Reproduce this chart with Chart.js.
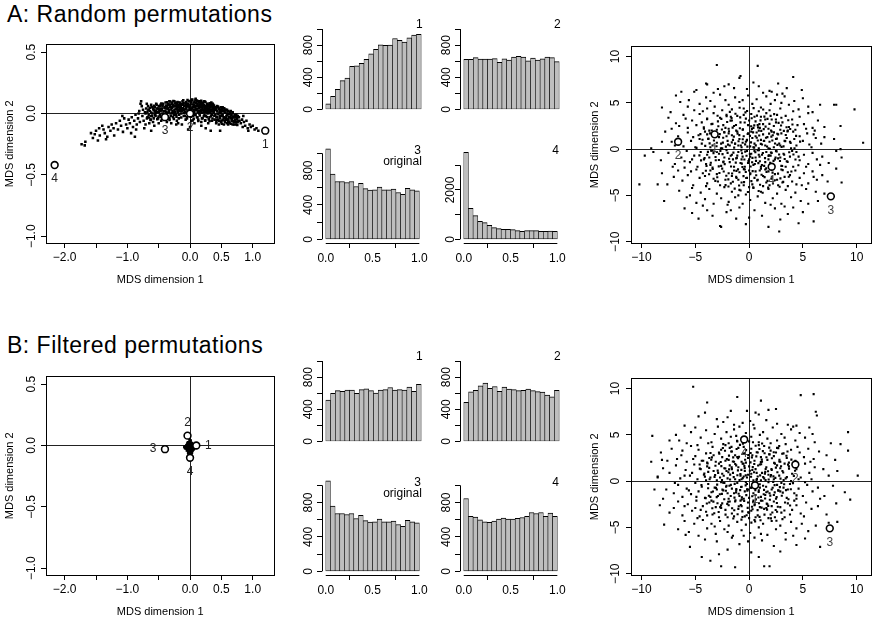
<!DOCTYPE html>
<html>
<head>
<meta charset="utf-8">
<script src="https://cdn.jsdelivr.net/npm/chart.js@4.4.1/dist/chart.umd.min.js"></script>
<style>
body { margin: 0; background: #fff; width: 876px; height: 623px; position: relative; overflow: hidden; font-family: 'Liberation Sans', Arial, Helvetica, sans-serif; }
canvas { position: absolute; }
.ttl { position: absolute; left: 7px; font-size: 23px; line-height: 23px; letter-spacing: 0.5px; white-space: nowrap; color: #000; }
</style>
</head>
<body>
<div class="ttl" style="top:3px">A: Random permutations</div>
<div class="ttl" style="top:334px">B: Filtered permutations</div>
<script>
// ---------- data ----------
const binMids = [0.025, 0.075, 0.125, 0.175, 0.225, 0.275, 0.325, 0.375, 0.425, 0.475,
                 0.525, 0.575, 0.625, 0.675, 0.725, 0.775, 0.825, 0.875, 0.925, 0.975];

const histA1 = [70, 164, 250, 359, 390, 535, 542, 574, 624, 691, 749, 804, 796, 800, 882, 859, 839, 890, 925, 933];
const histA2 = [622, 622, 645, 628, 625, 625, 632, 585, 630, 615, 652, 660, 650, 605, 638, 615, 630, 650, 645, 595];
const histOriginal = [1052, 757, 672, 672, 660, 672, 614, 652, 590, 571, 575, 606, 575, 575, 583, 544, 524, 594, 575, 563];
const histA4 = [3527, 1257, 960, 730, 676, 568, 473, 432, 405, 405, 392, 351, 324, 351, 351, 351, 324, 324, 338, 324];
const histB1 = [515, 597, 632, 624, 640, 640, 597, 644, 656, 632, 601, 640, 644, 671, 640, 644, 640, 675, 624, 710];
const histB2 = [488, 617, 636, 691, 726, 660, 683, 624, 675, 652, 644, 632, 636, 652, 632, 620, 613, 578, 554, 636];
const histB4 = [846, 638, 630, 599, 576, 568, 584, 607, 618, 607, 607, 615, 626, 638, 684, 672, 684, 638, 676, 638];

const smallXTicks = [-2, -1.5, -1, -0.5, 0, 0.5, 1];
const smallXText = ['\u22122.0', '', '\u22121.0', '', '0.0', '0.5', '1.0'];
const smallYTicks = [-1, -0.5, 0, 0.5];
const smallYText = ['\u22121.0', '\u22120.5', '0.0', '0.5'];
const largeTicks = [-10, -5, 0, 5, 10];
const largeText = ['\u221210', '\u22125', '0', '5', '10'];
const histYTicks = [0, 200, 400, 600, 800, 1000];
const histYText = ['0', '', '400', '', '800', ''];
const histY4Ticks = [0, 1000, 2000, 3000];
const histY4Text = ['0', '', '2000', ''];
const histXTicks = [0, 0.5, 1];
const histXText = ['0.0', '0.5', '1.0'];

const refNames = ['1', '2', '3', '4'];
const refSmallA = [[1.20, -0.14], [0.00, 0.00], [-0.40, -0.03], [-2.16, -0.42]];
const refSmallB = [[0.10, 0.00], [-0.04, 0.08], [-0.40, -0.03], [0.00, -0.10]];
const refLargeA = [[-3.2, 1.6], [-6.6, 0.8], [7.6, -5.1], [2.1, -1.9]];
const refLargeB = [[0.55, -0.45], [4.3, 1.8], [7.5, -5.1], [-0.46, 4.5]];

// left panel A: the crescent of random permutations
const mdsSmallA = [
[-1.73,-0.25],[-1.68,-0.26],[-1.67,-0.23],[-1.55,-0.20],[-1.52,-0.17],[-1.50,-0.14],[-1.47,-0.22],[-1.44,-0.18],[-1.38,-0.13],[-1.36,-0.16],
[-1.32,-0.19],[-1.30,-0.11],[-1.27,-0.14],[-1.25,-0.09],[-1.22,-0.12],[-1.40,-0.10],[-1.58,-0.16],[-1.34,-0.21],[-1.21,-0.18],[-1.45,-0.12],
[-1.18,-0.08],[-1.15,-0.13],[-1.12,-0.06],[-1.10,-0.10],[-1.07,-0.15],[-1.05,-0.04],[-1.02,-0.09],[-1.00,-0.12],[-0.98,-0.05],[-0.96,-0.08],
[-0.93,-0.03],[-0.91,-0.11],[-0.89,-0.06],[-0.87,-0.01],[-0.85,-0.09],[-0.83,-0.04],[-0.81,0.02],[-0.80,-0.07],[-0.78,0.10],[-0.79,0.08],
[-0.77,0.06],[-0.94,-0.16],[-1.08,-0.02],[-0.86,-0.13],[-0.82,0.00],
[-0.76,-0.02],[-0.75,0.03],[-0.74,-0.06],[-0.72,0.01],[-0.71,-0.09],[-0.70,0.04],[-0.68,-0.03],[-0.67,0.06],[-0.66,-0.01],[-0.64,0.02],
[-0.63,-0.05],[-0.62,0.07],[-0.60,0.00],[-0.59,-0.07],[-0.58,0.03],[-0.56,0.05],[-0.55,-0.02],[-0.54,0.08],[-0.52,0.01],[-0.51,-0.04],
[-0.50,0.06],[-0.49,0.03],[-0.48,-0.01],[-0.47,0.07],[-0.46,-0.06],[-0.45,0.04],[-0.44,0.00],[-0.43,0.08],[-0.42,0.02],[-0.41,-0.03],
[-0.73,-0.12],[-0.65,-0.08],[-0.57,-0.10],[-0.69,0.08],[-0.61,0.05],[-0.53,0.04],[-0.47,0.02],[-0.40,0.05],[-0.66,0.03],[-0.58,-0.04],
[-0.50,-0.08],[-0.44,0.06],[-0.62,-0.02],[-0.55,0.01],[-0.71,0.00],
[-0.39,0.09],[-0.38,0.01],[-0.37,0.06],[-0.36,-0.02],[-0.35,0.08],[-0.34,0.03],[-0.33,-0.04],[-0.32,0.07],[-0.31,0.00],[-0.30,0.05],
[-0.29,0.09],[-0.28,0.02],[-0.27,-0.03],[-0.26,0.06],[-0.25,0.10],[-0.24,0.01],[-0.23,0.04],[-0.22,-0.01],[-0.21,0.08],[-0.20,0.03],
[-0.19,0.06],[-0.18,-0.04],[-0.17,0.09],[-0.16,0.02],[-0.15,0.05],[-0.14,0.00],[-0.13,0.07],[-0.12,0.10],[-0.11,0.03],[-0.10,-0.02],
[-0.09,0.06],[-0.08,0.01],[-0.07,0.08],[-0.06,0.04],[-0.05,-0.03],[-0.04,0.07],[-0.03,0.02],[-0.02,0.10],[-0.01,0.05],[0.00,-0.01],
[-0.37,-0.07],[-0.30,-0.08],[-0.21,-0.06],[-0.13,-0.09],[-0.07,-0.05],[-0.35,0.04],[-0.27,0.07],[-0.19,0.01],[-0.11,0.08],[-0.03,0.06],
[-0.33,0.10],[-0.23,0.09],[-0.16,0.07],[-0.09,0.03],[-0.04,0.11],[-0.26,-0.01],[-0.14,0.04],[-0.06,0.09],[-0.38,0.04],[-0.18,0.03],
[0.01,0.08],[0.02,0.03],[0.03,0.11],[0.04,0.05],[0.05,-0.02],[0.06,0.09],[0.07,0.01],[0.08,0.06],[0.09,0.12],[0.10,0.03],
[0.11,-0.03],[0.12,0.08],[0.13,0.04],[0.14,0.10],[0.15,0.00],[0.16,0.06],[0.17,0.02],[0.18,0.09],[0.19,-0.04],[0.20,0.05],
[0.21,0.07],[0.22,0.01],[0.23,0.10],[0.24,0.03],[0.25,-0.02],[0.26,0.06],[0.27,0.08],[0.28,0.00],[0.29,0.04],[0.30,0.07],
[0.31,-0.03],[0.32,0.02],[0.33,0.06],[0.34,0.09],[0.35,-0.01],[0.36,0.04],[0.37,0.07],[0.38,0.01],[0.39,-0.05],[0.40,0.05],
[0.02,-0.06],[0.07,-0.08],[0.13,-0.05],[0.18,-0.07],[0.24,-0.06],[0.29,-0.08],[0.35,-0.06],[0.04,0.00],[0.09,0.04],[0.14,0.02],
[0.19,0.07],[0.23,0.05],[0.28,0.03],[0.33,0.00],[0.37,0.03],[0.06,0.07],[0.11,0.10],[0.16,0.09],[0.21,0.03],[0.26,0.02],
[0.31,0.05],[0.36,0.08],[0.03,0.04],[0.12,0.01],[0.17,0.05],[0.27,0.04],[0.32,0.08],[0.08,-0.01],[0.22,-0.02],[0.15,0.07],
[0.41,0.03],[0.42,-0.03],[0.43,0.06],[0.44,0.00],[0.45,-0.05],[0.46,0.04],[0.47,0.01],[0.48,-0.02],[0.49,0.05],[0.50,-0.06],
[0.51,0.02],[0.52,-0.01],[0.53,0.04],[0.54,-0.04],[0.55,0.01],[0.56,-0.07],[0.57,0.03],[0.58,-0.02],[0.59,0.00],[0.60,-0.05],
[0.61,0.02],[0.62,-0.03],[0.63,-0.08],[0.64,0.00],[0.65,-0.04],[0.66,-0.01],[0.67,-0.06],[0.68,0.01],[0.69,-0.03],[0.70,-0.07],
[0.71,-0.02],[0.72,-0.05],[0.73,-0.09],[0.74,-0.01],[0.75,-0.04],[0.76,-0.07],[0.78,-0.03],[0.79,-0.06],[0.44,0.05],[0.48,0.03],
[0.52,0.05],[0.57,-0.05],[0.61,-0.07],[0.65,0.02],[0.42,-0.07],[0.54,-0.09],[0.46,-0.09],[0.68,-0.09],[0.50,0.00],[0.59,0.03],
[0.81,-0.08],[0.83,-0.05],[0.84,-0.11],[0.86,-0.07],[0.88,-0.10],[0.90,-0.06],[0.92,-0.12],[0.95,-0.09],[0.97,-0.11],[1.00,-0.10],
[1.03,-0.13],[1.06,-0.12],[0.85,-0.02],[1.09,-0.14],[0.93,-0.14],
[-0.22,-0.09],[-0.19,-0.08],[0.18,-0.10],[0.33,-0.14],[0.48,-0.14],[-0.03,-0.13],[0.00,-0.11],[-0.62,-0.14],[-0.88,-0.19],[0.25,-0.12],
[-0.680,0.013],[-0.655,-0.032],[-0.642,0.047],[-0.618,0.008],[-0.603,-0.021],[-0.587,0.036],[-0.571,0.062],[-0.556,-0.013],[-0.538,0.024],[-0.523,-0.047],
[-0.509,0.041],[-0.494,0.012],[-0.481,0.058],[-0.467,-0.028],[-0.452,0.027],[-0.437,0.069],[-0.423,-0.009],[-0.408,0.046],[-0.663,0.028],[-0.628,-0.052],
[-0.597,0.053],[-0.566,0.017],[-0.533,0.071],[-0.502,-0.025],[-0.473,0.034],[-0.444,-0.043],[-0.415,0.017],[-0.688,-0.041],[-0.546,0.005],[-0.458,0.081],
[-0.392,0.023],[-0.384,0.064],[-0.377,-0.015],[-0.369,0.091],[-0.356,0.041],[-0.348,-0.036],[-0.341,0.072],[-0.333,0.015],[-0.324,0.052],[-0.316,0.098],
[-0.308,-0.021],[-0.299,0.033],[-0.291,0.077],[-0.283,0.004],[-0.274,0.058],[-0.266,0.101],[-0.258,-0.044],[-0.249,0.029],[-0.241,0.081],[-0.233,0.012],
[-0.224,0.064],[-0.216,-0.027],[-0.208,0.047],[-0.199,0.094],[-0.191,0.021],[-0.183,0.069],[-0.174,-0.011],[-0.166,0.038],[-0.158,0.088],[-0.149,0.057],
[-0.141,-0.033],[-0.133,0.018],[-0.124,0.076],[-0.116,0.043],[-0.108,0.107],[-0.099,0.007],[-0.091,0.061],[-0.083,-0.019],[-0.074,0.035],[-0.066,0.093],
[-0.058,0.052],[-0.049,-0.041],[-0.041,0.024],[-0.033,0.079],[-0.024,0.061],[-0.016,-0.008],[-0.008,0.039],[-0.004,0.102],[-0.362,0.007],[-0.287,0.047],
[-0.212,0.083],[-0.137,0.031],[-0.062,0.071],[-0.327,-0.052],[-0.253,0.011],[-0.178,0.052],[-0.103,0.083],[-0.028,0.017],[-0.396,0.053],[-0.221,0.037],
[0.006,0.066],[0.013,-0.027],[0.021,0.094],[0.028,0.041],[0.036,0.113],[0.043,0.012],[0.051,0.073],[0.058,-0.044],[0.066,0.029],[0.073,0.097],
[0.081,0.052],[0.088,-0.013],[0.096,0.083],[0.103,0.034],[0.111,0.106],[0.118,-0.031],[0.126,0.061],[0.133,0.019],[0.141,0.089],[0.148,0.046],
[0.156,-0.017],[0.163,0.071],[0.171,0.031],[0.178,0.103],[0.186,0.007],[0.193,0.057],[0.201,-0.038],[0.208,0.086],[0.216,0.024],[0.223,0.067],
[0.231,-0.012],[0.238,0.044],[0.246,0.093],[0.253,0.013],[0.261,0.058],[0.268,-0.029],[0.276,0.076],[0.283,0.027],[0.291,0.061],[0.298,-0.047],
[0.306,0.038],[0.313,0.084],[0.321,0.011],[0.328,0.049],[0.336,-0.023],[0.343,0.068],[0.351,0.021],[0.358,-0.041],[0.366,0.052],[0.373,0.009],
[0.381,0.064],[0.388,-0.018],[0.396,0.031],[0.017,0.017],[0.062,0.051],[0.108,0.064],[0.153,0.004],[0.198,0.036],[0.243,-0.056],[0.288,0.011],
[0.333,0.031],[0.378,0.042],[0.042,-0.057],[0.087,0.111],[0.132,-0.062],[0.177,0.081],[0.222,0.097],[0.267,0.041],[0.312,-0.062],[0.357,0.076],
[0.404,-0.011],[0.412,0.044],[0.421,-0.051],[0.429,0.019],[0.437,-0.028],[0.446,0.057],[0.454,-0.006],[0.462,-0.062],[0.471,0.029],[0.479,-0.039],
[0.487,0.013],[0.496,-0.071],[0.504,0.036],[0.512,-0.018],[0.521,-0.052],[0.529,0.021],[0.537,-0.031],[0.546,0.043],[0.554,-0.061],[0.562,0.006],
[0.571,-0.036],[0.579,0.024],[0.587,-0.079],[0.596,-0.013],[0.604,0.017],[0.612,-0.044],[0.621,-0.007],[0.629,-0.066],[0.637,0.011],[0.646,-0.027],
[0.654,-0.083],[0.662,-0.016],[0.671,-0.048],[0.679,0.004],[0.687,-0.064],[0.696,-0.031],[0.704,-0.089],[0.712,-0.012],[0.721,-0.056],[0.729,-0.027],
[0.737,-0.071],[0.746,-0.046],[0.754,-0.093],[0.762,-0.021],[0.771,-0.061],[0.417,-0.079],[0.458,0.039],[0.508,-0.084],[0.558,0.031],[0.608,-0.089]
];

// left panel B: the tight cluster of filtered permutations
const mdsSmallB = [
[0.00,0.04],[-0.01,0.03],[0.01,0.02],[-0.02,0.02],[0.02,0.01],[-0.03,0.01],[0.00,0.01],[0.03,0.00],[-0.04,0.00],[-0.01,0.00],
[0.01,-0.01],[0.04,-0.01],[-0.05,-0.01],[-0.02,-0.01],[0.06,-0.01],[-0.07,-0.01],[0.02,-0.02],[-0.03,-0.02],[0.05,-0.02],[-0.06,-0.02],
[0.00,-0.02],[0.08,-0.02],[-0.08,-0.02],[0.03,-0.03],[-0.04,-0.03],[0.06,-0.03],[-0.01,-0.03],[0.01,-0.04],[-0.03,-0.04],[0.04,-0.04],
[-0.05,-0.04],[0.02,-0.05],[-0.02,-0.05],[0.00,-0.05],[0.03,-0.06],[-0.03,-0.06],[0.01,-0.07],[-0.01,-0.07],[0.02,-0.08],[0.00,-0.08],
[-0.01,0.05],[0.01,0.04],[0.05,0.00],[-0.06,0.00],[0.07,-0.01],[-0.09,-0.01],[0.09,-0.01],[0.03,0.02],[-0.04,0.02],[0.00,-0.09],
[0.005,0.032],[-0.012,0.021],[0.015,0.008],[-0.025,0.006],[0.027,-0.008],[-0.036,-0.012],[0.044,-0.016],[-0.047,-0.019],[0.058,-0.021],[-0.058,-0.011],
[0.072,-0.018],[-0.071,-0.024],[0.012,-0.014],[-0.008,-0.016],[0.022,-0.033],[-0.019,-0.036],[0.035,-0.045],[-0.036,-0.041],[0.008,-0.052],[-0.011,-0.058],
[0.018,-0.064],[-0.006,-0.074],[0.009,-0.082],[0.032,0.014],[-0.031,0.027],[0.052,0.007],[-0.053,0.004],[0.066,-0.005],[-0.077,-0.006],[0.084,-0.014],
[-0.086,-0.015],[0.048,-0.035],[-0.049,-0.028],[0.027,-0.055],[-0.024,-0.068],[0.004,-0.027],[-0.002,0.014],[0.011,-0.093],[0.039,-0.004],[-0.041,0.011]
];

// right panel A
const mdsLargeA = [
[-3.0,9.1],[0.8,9.0],[-0.8,7.9],[-0.9,7.7],[4.1,7.8],[-2.3,6.8],[-4.0,7.1],[-3.9,7.0],[-4.9,6.4],[-5.1,6.2],
[-6.3,6.2],[1.9,6.3],[0.4,7.2],[2.7,7.1],[3.5,6.6],[-1.4,6.6],[-2.9,6.5],[0.9,6.8],[2.1,6.2],[-0.2,6.5],
[4.9,6.4],[-3.3,6.1],[1.3,6.1],[-1.9,7.0],[3.1,6.0],
[-6.8,5.8],[-6.4,5.1],[-5.6,5.3],[-4.6,4.9],[-4.0,5.6],[-3.6,5.2],[-3.2,4.6],[-2.7,5.9],[-2.2,5.3],[-1.9,4.8],
[-1.3,5.6],[-0.9,5.1],[-0.5,4.4],[-0.1,5.8],[0.3,4.9],[0.7,5.4],[1.1,4.5],[1.6,5.7],[2.0,4.9],[2.4,5.3],
[2.9,4.4],[3.3,5.7],[3.7,4.8],[4.2,5.2],[4.6,4.3],[5.0,5.5],[5.5,4.6],[6.6,4.8],[7.9,4.8],[8.1,4.8],
[-8.1,4.5],[-5.1,4.2],[-4.3,4.1],[-2.5,4.2],[0.9,4.1],[1.9,4.2],[3.0,5.0],[-1.6,4.3],[-3.9,4.4],[5.9,4.0],
[-0.6,5.3],[4.1,4.1],[2.6,5.9],[-7.3,4.0],[-5.7,4.6],[9.8,4.3],
[-6.8,2.8],[-7.5,3.4],[-6.1,3.7],[-5.7,2.3],[-5.3,3.1],[-4.9,2.6],[-4.6,3.8],[-4.2,2.2],[-3.9,3.3],[-3.5,2.7],
[-3.3,3.9],[-3.0,2.1],[-2.7,3.4],[-2.4,2.6],[-2.1,3.7],[-1.9,2.2],[-1.6,3.1],[-1.4,2.5],[-1.1,3.6],[-0.8,2.9],
[-0.6,2.1],[-0.3,3.3],[-0.1,2.6],[0.2,3.8],[0.4,2.3],[0.6,3.0],[0.9,2.0],[1.1,3.5],[1.3,2.7],[1.6,3.9],
[1.8,2.2],[2.1,3.2],[2.3,2.5],[2.6,3.7],[2.9,2.1],[3.1,2.9],[3.4,3.6],[3.7,2.4],[4.0,3.2],[4.3,2.1],
[4.7,3.5],[5.1,2.7],[5.5,3.9],[5.9,2.3],[6.4,3.1],[7.0,2.4],[8.5,2.5],[-7.2,2.2],[-5.9,3.3],[-4.4,2.9],
[-2.9,3.0],[-1.2,2.0],[0.0,3.1],[0.8,2.6],[1.5,3.2],[2.5,2.9],[3.6,2.0],[4.5,2.6],[6.1,2.0],[-3.7,2.0],
[-2.2,2.3],[-0.5,3.7],[1.0,2.3],[2.0,3.6],[3.0,3.4],[5.3,2.2],[-6.5,2.5],[-1.7,3.5],[0.5,3.5],
[-8.1,0.8],[-7.8,1.9],[-7.2,0.8],[-6.6,1.4],[-6.1,0.3],[-5.7,1.8],[-5.4,0.9],[-5.0,0.2],[-4.7,1.5],[-4.4,0.6],
[-4.1,1.9],[-3.8,1.1],[-3.6,0.2],[-3.3,1.6],[-3.0,0.7],[-2.8,1.3],[-2.5,0.1],[-2.3,1.8],[-2.0,0.9],[-1.8,0.4],
[-1.6,1.5],[-1.3,0.6],[-1.1,1.9],[-0.9,1.1],[-0.7,0.2],[-0.5,1.4],[-0.3,0.8],[-0.1,1.7],[0.1,0.3],[0.3,1.2],
[0.5,0.6],[0.7,1.8],[0.9,0.1],[1.1,1.0],[1.3,1.6],[1.5,0.4],[1.7,1.3],[1.9,0.8],[2.1,1.9],[2.3,0.2],
[2.5,1.1],[2.8,0.6],[3.0,1.7],[3.2,0.3],[3.5,1.2],[3.8,0.8],[4.1,1.9],[4.4,0.4],[4.7,1.4],[5.0,0.9],
[5.4,1.7],[5.8,0.2],[6.2,1.2],[6.7,0.6],[7.0,1.3],[7.9,1.1],[8.5,0.0],[10.6,0.7],[-9.1,0.1],[-6.9,0.4],
[-5.2,1.3],[-3.4,0.4],[-2.1,1.4],[-1.0,0.4],[-0.2,1.0],[0.6,1.4],[1.4,0.9],[2.2,1.5],[3.3,0.9],[4.2,1.1],
[5.6,0.5],[-4.6,1.1],[-1.5,1.0],[0.2,1.9],[1.8,0.1],[2.7,1.6],[3.9,0.1],[-2.6,0.6],[-0.6,0.7],[0.4,0.2],
[1.2,0.5],[6.0,1.6],[-3.9,1.6],[-1.9,1.7],[2.9,0.4],
[-9.7,-0.7],[-8.2,-1.2],[-7.5,-0.4],[-6.9,-1.6],[-6.3,-0.9],[-5.8,-0.2],[-5.5,-1.4],[-5.1,-0.7],[-4.8,-1.9],[-4.5,-0.3],
[-4.2,-1.1],[-3.9,-0.6],[-3.6,-1.7],[-3.4,-0.2],[-3.1,-1.2],[-2.8,-0.5],[-2.6,-1.8],[-2.3,-0.9],[-2.1,-0.1],[-1.8,-1.4],
[-1.6,-0.6],[-1.4,-1.9],[-1.2,-1.0],[-1.0,-0.3],[-0.8,-1.5],[-0.6,-0.8],[-0.4,-1.9],[-0.2,-0.2],[0.0,-1.1],[0.2,-0.5],
[0.4,-1.7],[0.6,-0.9],[0.8,-0.1],[1.0,-1.3],[1.2,-0.6],[1.4,-1.8],[1.6,-0.3],[1.8,-1.1],[2.0,-0.7],[2.2,-1.6],
[2.5,-0.2],[2.7,-1.0],[3.0,-1.8],[3.2,-0.5],[3.5,-1.3],[3.8,-0.8],[4.1,-1.9],[4.4,-0.3],[4.7,-1.2],[5.1,-0.6],
[5.5,-1.6],[5.9,-0.4],[6.3,-1.1],[6.8,-0.8],[7.4,-1.5],[8.1,-0.2],[8.6,-0.9],[-10.2,-3.8],[-8.9,-0.3],[-7.1,-1.9],
[-5.3,-1.1],[-3.7,-0.9],[-2.4,-1.4],[-1.1,-0.7],[-0.1,-1.5],[0.9,-0.6],[1.9,-1.9],[2.9,-0.9],[4.0,-0.2],[5.3,-1.9],
[-4.0,-1.6],[-2.0,-0.4],[-0.7,-1.1],[0.5,-0.2],[1.5,-1.4],[2.4,-1.1],[3.4,-1.9],[6.6,-1.7],[-6.0,-1.3],[-3.0,-0.3],
[0.1,-0.8],[1.1,-1.9],[2.1,-0.4],[4.6,-0.8],[-1.5,-1.1],
[-8.1,-2.6],[-8.5,-3.8],[-7.6,-3.8],[-6.6,-2.3],[-6.2,-3.4],[-5.7,-2.8],[-5.2,-3.9],[-4.9,-2.2],[-4.6,-3.1],[-4.3,-2.6],
[-3.9,-3.7],[-3.6,-2.3],[-3.3,-3.2],[-3.0,-2.7],[-2.7,-3.9],[-2.5,-2.1],[-2.2,-3.3],[-1.9,-2.6],[-1.7,-3.7],[-1.4,-2.3],
[-1.2,-3.0],[-0.9,-2.5],[-0.7,-3.6],[-0.4,-2.2],[-0.2,-3.1],[0.1,-2.7],[0.3,-3.8],[0.6,-2.4],[0.8,-3.3],[1.1,-2.1],
[1.3,-2.9],[1.6,-3.6],[1.8,-2.4],[2.1,-3.2],[2.4,-2.7],[2.7,-3.9],[3.0,-2.2],[3.3,-3.0],[3.6,-2.5],[4.0,-3.5],
[4.3,-2.3],[4.7,-3.1],[5.1,-2.6],[5.5,-3.7],[5.9,-2.4],[6.3,-3.3],[6.8,-2.8],[7.3,-3.5],[8.1,-2.1],[8.6,-3.6],
[-7.0,-3.0],[-5.4,-2.4],[-4.1,-2.9],[-2.9,-3.5],[-1.6,-2.9],[-0.5,-3.9],[0.5,-3.1],[1.5,-2.2],[2.6,-3.3],[3.8,-2.8],
[4.9,-3.9],[6.0,-3.0],[-3.4,-2.0],[-1.0,-3.3],[1.9,-3.9],[3.1,-3.6],[-6.0,-2.0],[0.0,-2.3],[2.3,-2.0],[4.4,-3.8],
[-7.9,-5.6],[-6.0,-6.4],[-6.5,-4.5],[-5.8,-5.2],[-5.3,-4.2],[-4.9,-5.8],[-4.5,-4.7],[-4.1,-5.4],[-3.7,-4.3],[-3.3,-5.9],
[-3.0,-4.8],[-2.6,-5.3],[-2.3,-4.1],[-1.9,-5.7],[-1.6,-4.6],[-1.3,-5.2],[-0.9,-4.4],[-0.6,-5.9],[-0.3,-4.9],[0.1,-5.5],
[0.4,-4.2],[0.8,-5.1],[1.1,-4.6],[1.5,-5.8],[1.8,-4.3],[2.2,-5.3],[2.6,-4.8],[3.0,-5.9],[3.4,-4.4],[3.9,-5.2],
[4.3,-4.7],[4.8,-5.6],[5.3,-4.3],[5.5,-5.9],[6.4,-5.6],[6.2,-4.6],[7.0,-4.8],[-4.0,-4.0],[-2.0,-6.0],[0.0,-4.1],
[2.0,-6.0],[-5.5,-5.0],[1.3,-4.0],[-1.0,-5.0],[3.6,-4.0],
[-5.3,-6.9],[-2.1,-6.8],[-2.6,-8.4],[-2.7,-8.3],[-0.3,-8.1],[1.8,-8.4],[2.8,-8.9],[4.6,-8.0],[6.0,-7.8],[-4.3,-6.1],
[-3.4,-7.2],[-1.2,-7.5],[0.5,-6.6],[1.2,-7.2],[2.4,-6.4],[3.6,-7.0],[4.1,-6.3],[5.0,-6.8],[-0.9,-6.3],[0.0,-7.4],
[-3.9,-6.6],[2.9,-7.6],[-1.7,-6.6],[3.3,-6.2],[-4.7,-7.5],
[-0.37,0.52],[1.84,-0.66],[-2.41,1.23],[0.96,2.71],[-1.18,-2.34],[2.63,0.47],[-3.12,-0.85],[0.21,-3.46],[3.57,1.92],[-1.73,3.08],
[0.64,-1.27],[-2.86,2.47],[1.37,0.88],[-0.52,-2.91],[2.18,-2.53],[-3.64,1.71],[0.08,1.43],[4.12,-0.57],[-1.46,-0.38],[1.02,-3.84],
[-2.27,-1.62],[3.31,-1.06],[-0.86,2.26],[2.74,2.84],[-4.08,0.36],[0.47,0.17],[-1.93,-3.27],[1.59,-2.08],[-0.19,4.12],[3.86,0.68],
[-3.38,-2.14],[0.73,3.63],[-2.62,0.08],[2.07,1.36],[-0.68,-1.56],[1.28,-0.41],[-4.47,-1.21],[0.33,-2.37],[2.91,-3.16],[-1.07,1.68],
[-2.04,2.93],[3.48,2.37],[-0.24,-0.71],[1.71,3.27],[-3.83,-0.29],[0.89,-4.52],[-1.61,0.74],[2.46,-0.92],[-0.93,-3.92],[4.37,1.44],
[-2.93,3.61],[1.13,1.97],[-0.41,2.88],[3.12,-2.27],[-1.86,-1.04],[0.14,-1.88],[2.33,3.79],[-3.27,0.93],[0.58,-0.33],[-2.19,-3.88],
[1.67,0.29],[-0.77,0.39],[3.73,-0.34],[-4.21,2.36],[0.26,2.19],[-1.34,-4.27],[2.58,1.14],[-0.11,-4.63],[1.96,-1.47],[-3.56,-1.47],
[0.81,0.93],[-2.47,-0.54],[4.58,-1.74],[-1.22,2.61],[1.44,-3.02],[-0.59,1.07],[3.02,0.23],[-2.73,1.62],[0.42,4.44],[-1.58,-2.63],
[2.22,-3.71],[-3.91,3.23],[0.97,-0.81],[-0.31,-2.47],[1.53,2.43],[-4.62,-0.67],[2.87,-1.28],[-1.96,0.49],[0.18,0.73],[3.64,3.12],
[-2.36,-2.41],[1.19,-1.73],[-0.83,3.44],[2.41,0.61],[-3.47,2.02],[0.66,-2.82],[-1.42,1.36],[4.03,2.67],[-0.06,-1.28],[1.77,-4.16],
[-2.81,-1.17],[0.37,1.81],[-1.79,4.03],[3.26,-0.61],[-3.03,0.31],[1.06,3.11],[-0.47,-3.56],[2.69,-2.64],[-4.33,1.02],[0.91,-0.12],
[-1.14,-0.96],[2.04,2.02],[-2.58,3.27],[1.48,-0.97],[-0.72,-0.13],[3.93,-2.42],[-3.72,-2.71],[0.24,3.34],[-1.68,-1.88],[2.56,-0.24],
[-0.98,0.86],[1.31,4.28],[-2.12,-2.87],[3.41,1.53],[-4.89,0.14],[0.53,-1.61],[-1.27,3.82],[2.12,-2.98],[-0.16,0.28],[1.86,1.68],
[-3.18,1.37],[0.76,-3.37],[-0.57,2.14],[4.22,0.09],[-2.44,0.71],[1.62,-2.46],[-1.51,-3.52],[2.97,2.56],[-3.96,-1.82],[0.07,-0.52],
[1.09,0.57],[-2.67,-0.19],[3.17,-3.53],[-0.34,3.97],[-4.14,-0.97],[1.93,0.04],[-1.03,-2.18],[2.31,1.82],[-0.62,-1.93],[0.48,2.57],
[-3.41,2.73],[2.79,-0.58],[-1.87,1.94],[0.99,-2.31],[-0.13,1.64],[3.58,-1.38],[-2.96,-3.04],[1.42,3.52],[-0.79,-4.47],[2.16,0.94],
[-3.67,0.62],[0.31,-0.94],[-1.39,0.17],[4.74,0.81],[-0.44,-1.12],[1.57,1.24],[-2.31,1.84],[3.07,-1.82],[0.86,-1.51],[-1.71,-0.71],
[0.19,2.47],[-2.82,-1.86],[2.49,3.21],[-0.91,1.52],[1.26,-4.71],[-3.31,-0.43],[3.82,2.18],[-1.24,-1.46],[0.62,0.41],[-4.53,1.63],
[1.81,-0.73],[-0.27,-3.12],[2.84,-4.06],[-2.09,3.56],[0.11,-2.62],[-1.53,2.33],[3.36,0.87],[-3.14,-3.43],[0.94,1.47],[-0.66,-0.44],
[2.27,-1.26],[-1.92,-4.03],[1.36,2.17],[-2.53,2.13],[3.69,-2.98],[-0.21,0.94],[-3.78,1.14],[1.71,-3.43],[0.39,-4.13],[-1.31,0.58],
[2.62,1.67],[-2.76,-2.57],[0.83,2.36],[-0.49,-2.16],[4.31,-1.11],[-1.63,3.37],[1.16,-2.77],[-3.53,-0.16],[0.28,-1.42],[2.03,-0.36],
[-0.88,4.47],[-2.38,-1.33],[3.23,1.97],[-1.17,-3.11],[0.71,1.23],[-4.02,-2.33],[1.89,2.73],[-0.36,-0.27],[2.39,-3.36],[-2.16,0.27]
];

// right panel B
const mdsLargeB = [
[-5.2,10.2],[-1.1,9.1],[1.1,8.7],[-3.9,8.5],[4.8,9.3],[6.0,9.4],[6.2,7.5],[6.3,7.1],[-0.2,7.6],[0.6,7.4],
[0.9,7.2],[-1.7,7.6],[-4.1,7.4],[1.8,7.7],[2.5,7.8],[0.1,6.5],[-3.0,6.7],[-2.4,6.4],[-1.4,6.1],[0.4,6.1],
[1.6,6.6],[2.6,6.2],[3.6,6.1],[-4.7,7.0],[-2.0,6.9],[4.4,6.0],[-0.6,6.3],
[-6.0,6.0],[-6.8,5.0],[-5.4,5.3],[-5.0,5.8],[-4.5,4.7],[-4.0,5.5],[-3.5,4.2],[-3.2,5.1],[-2.9,5.9],[-2.6,4.6],
[-2.1,5.3],[-1.7,4.8],[-1.4,5.6],[-1.1,4.3],[-0.5,4.5],[-0.3,5.2],[0.2,4.8],[0.5,5.7],[0.9,4.2],[1.3,5.3],
[1.7,4.6],[2.2,5.8],[2.6,4.4],[3.0,5.1],[3.4,4.0],[3.9,5.6],[4.3,4.4],[4.7,5.2],[5.2,4.7],[5.6,5.8],
[6.1,4.2],[7.6,4.1],[8.5,4.0],[9.2,5.3],[-9.0,4.9],[-7.4,4.4],[-5.8,4.1],[-3.8,4.1],[-1.9,4.1],[-0.9,5.9],
[0.0,4.3],[1.0,5.0],[2.0,4.1],[3.3,4.7],[4.1,5.9],[-1.2,4.9],[5.9,5.1],[-2.4,4.0],[-6.5,4.4],
[-9.1,2.1],[-8.1,2.3],[-8.2,3.1],[-7.2,3.5],[-6.7,2.4],[-6.2,3.3],[-5.8,2.1],[-5.4,3.8],[-5.0,2.7],[-4.7,3.4],
[-4.4,2.2],[-4.0,3.0],[-3.7,2.5],[-3.4,3.7],[-3.1,2.1],[-2.8,3.1],[-2.5,2.6],[-2.2,3.9],[-1.9,2.3],[-1.6,3.2],
[-1.3,2.8],[-1.0,3.6],[-0.7,2.1],[-0.4,3.0],[-0.1,2.5],[0.2,3.5],[0.5,2.2],[0.8,3.1],[1.1,2.6],[1.4,3.8],
[1.7,2.3],[2.0,3.3],[2.3,2.7],[2.6,3.6],[2.9,2.1],[3.2,3.0],[3.5,2.5],[3.9,3.4],[4.3,2.2],[4.7,3.1],
[5.1,2.6],[5.5,3.5],[6.0,2.4],[6.5,3.2],[7.2,2.8],[8.0,2.3],[9.2,3.3],[-7.6,2.2],[-5.2,2.4],[-3.9,2.0],
[-2.6,3.4],[-2.2,2.2],[-1.4,2.1],[-0.5,3.7],[0.3,2.8],[1.2,2.1],[2.5,3.1],[3.7,2.0],[4.5,3.7],[-3.3,2.8],
[-4.8,3.9],[-1.1,2.6],[0.9,3.9],[1.9,2.9],[-6.3,2.8],[2.8,3.8],[-0.3,2.0],[-1.8,3.6],[5.7,2.1],
[-8.5,0.5],[-8.0,1.4],[-7.4,0.9],[-6.8,1.7],[-6.4,0.3],[-5.9,1.2],[-5.5,0.6],[-5.1,1.8],[-4.8,0.2],[-4.5,1.3],
[-4.2,0.7],[-3.9,1.6],[-3.6,0.4],[-3.3,1.1],[-3.0,0.1],[-2.8,1.9],[-2.5,0.8],[-2.3,1.4],[-2.0,0.3],[-1.8,1.7],
[-1.5,0.9],[-1.3,0.2],[-1.0,1.5],[-0.8,0.6],[-0.6,1.9],[-0.4,1.1],[-0.2,0.4],[0.0,1.6],[0.2,0.8],[0.4,0.1],
[0.6,1.3],[0.8,0.5],[1.0,1.8],[1.2,0.9],[1.4,0.3],[1.6,1.5],[1.8,0.7],[2.1,1.2],[2.3,0.2],[2.6,1.7],
[2.8,0.6],[3.1,1.1],[3.4,0.3],[3.7,1.6],[4.0,0.8],[4.4,1.3],[4.8,0.4],[5.2,1.9],[5.6,0.9],[6.1,1.5],
[6.9,1.3],[7.4,0.6],[8.2,1.1],[10.1,0.6],[-8.5,0.4],[-6.0,0.6],[-4.0,0.1],[-2.7,0.4],[-1.6,1.3],[-0.7,0.2],
[0.3,1.2],[1.1,0.1],[2.0,0.5],[3.3,1.9],[4.6,0.2],[5.8,0.2],[-3.8,1.0],[-2.1,1.1],[-0.1,0.7],[1.5,1.0],
[2.4,1.9],[-5.3,0.9],[-1.2,1.7],[0.7,0.9],[3.9,0.0],[-4.6,1.8],[-0.5,0.5],[2.9,1.4],
[-8.0,-1.9],[-7.7,-0.9],[-7.0,-1.3],[-6.6,-0.4],[-6.2,-1.7],[-5.8,-0.8],[-5.4,-1.4],[-5.0,-0.2],[-4.7,-1.1],[-4.4,-0.6],
[-4.1,-1.8],[-3.8,-0.3],[-3.5,-1.2],[-3.2,-0.7],[-2.9,-1.6],[-2.6,-0.1],[-2.4,-1.0],[-2.1,-0.5],[-1.9,-1.9],[-1.6,-0.8],
[-1.4,-1.3],[-1.1,-0.2],[-0.9,-1.6],[-0.7,-0.6],[-0.4,-1.1],[-0.2,-0.3],[0.0,-1.8],[0.2,-0.7],[0.4,-1.3],[0.7,-0.2],
[0.9,-1.0],[1.1,-1.7],[1.3,-0.5],[1.6,-1.2],[1.8,-0.1],[2.1,-0.9],[2.3,-1.5],[2.6,-0.4],[2.9,-1.1],[3.2,-0.7],
[3.5,-1.8],[3.8,-0.3],[4.2,-1.3],[4.6,-0.8],[5.0,-1.6],[5.4,-0.4],[5.9,-1.1],[6.4,-0.7],[7.0,-1.6],[7.8,-0.5],
[8.9,-1.2],[9.4,-2.0],[-8.8,-0.9],[-6.9,-0.2],[-4.9,-1.7],[-3.0,-0.9],[-1.7,-0.4],[-0.5,-1.9],[0.5,-0.4],[1.5,-1.5],
[2.5,-1.9],[3.6,-0.9],[5.2,-0.1],[-3.6,-1.7],[-2.3,-0.2],[-1.2,-1.0],[-0.1,-0.9],[1.0,-0.7],[1.9,-1.3],[3.0,-0.2],
[4.4,-1.9],[-5.6,-1.0],[-0.3,-0.1],[0.6,-1.5],[2.7,-1.0],[-2.0,-1.3],[6.6,-1.9],
[-8.3,-2.6],[-7.4,-3.4],[-6.6,-2.2],[-6.2,-3.7],[-5.7,-2.5],[-5.3,-3.2],[-4.9,-2.1],[-4.6,-3.8],[-4.3,-2.7],[-4.0,-3.3],
[-3.7,-2.3],[-3.4,-3.6],[-3.1,-2.8],[-2.8,-3.9],[-2.5,-2.4],[-2.2,-3.1],[-1.9,-2.6],[-1.6,-3.5],[-1.3,-2.2],[-1.0,-3.0],
[-0.7,-2.7],[-0.4,-3.8],[-0.1,-2.3],[0.2,-3.2],[0.5,-2.6],[0.8,-3.7],[1.1,-2.1],[1.4,-3.0],[1.7,-2.5],[2.0,-3.6],
[2.3,-2.2],[2.6,-3.3],[2.9,-2.8],[3.3,-3.9],[3.6,-2.4],[4.0,-3.1],[4.4,-2.6],[4.8,-3.5],[5.3,-2.3],[5.8,-3.0],
[6.4,-2.7],[7.2,-3.6],[8.1,-2.4],[-7.0,-2.9],[-5.0,-2.9],[-3.5,-2.1],[-2.0,-3.9],[-0.8,-2.1],[0.6,-3.9],[1.6,-2.9],
[3.0,-3.4],[4.2,-2.1],[-6.0,-2.7],[-4.5,-3.1],[-2.6,-2.9],[-1.4,-3.8],[0.0,-3.4],[1.0,-2.8],[2.4,-3.9],[3.8,-3.6],
[5.1,-3.8],[-3.9,-3.7],[-1.8,-2.2],[0.4,-2.1],[2.1,-2.7],
[-7.9,-4.7],[-6.6,-5.2],[-6.0,-4.3],[-5.6,-5.5],[-5.1,-4.6],[-4.7,-5.9],[-4.3,-4.2],[-3.9,-5.1],[-3.5,-4.6],[-3.1,-5.7],
[-2.7,-4.3],[-2.3,-5.2],[-1.9,-4.8],[-1.5,-5.9],[-1.1,-4.4],[-0.7,-5.3],[-0.3,-4.7],[0.1,-5.6],[0.5,-4.2],[0.9,-5.0],
[1.3,-4.6],[1.7,-5.8],[2.1,-4.3],[2.5,-5.2],[2.9,-4.8],[3.4,-5.6],[3.9,-4.4],[4.4,-5.1],[4.9,-4.6],[5.5,-5.4],
[6.2,-4.8],[7.4,-4.5],[8.2,-4.4],[-4.8,-4.0],[-2.0,-5.5],[0.0,-4.0],[1.8,-4.0],[3.1,-4.1],[-3.2,-4.9],[-0.5,-5.9],
[1.1,-5.7],[4.1,-5.9],[-5.9,-5.8],
[-5.5,-7.1],[-4.4,-8.2],[-3.6,-8.6],[-2.6,-9.2],[-1.3,-9.3],[1.4,-9.2],[1.9,-9.2],[0.9,-8.2],[6.6,-7.1],[-3.0,-6.5],
[-2.0,-7.4],[-0.9,-6.8],[0.2,-7.7],[1.2,-6.4],[2.3,-7.0],[3.4,-6.3],[4.4,-6.9],[-4.1,-6.3],[-1.6,-6.1],[-0.1,-6.5],
[2.9,-7.6],[5.2,-6.2],[-2.8,-7.9],[0.5,-6.1],
[0.42,-0.58],[-1.76,0.71],[2.38,-1.21],[-0.94,2.64],[1.12,1.83],[-2.53,-1.37],[0.27,-2.76],[-3.21,0.46],[2.81,2.12],[-1.38,-3.14],
[0.73,0.22],[-2.07,2.38],[1.64,-2.43],[-0.41,1.41],[3.26,-0.33],[-3.74,-1.58],[0.96,3.47],[-1.19,-0.84],[2.04,0.67],[-0.68,-1.97],
[3.71,1.36],[-2.92,1.14],[0.13,2.03],[1.43,-3.61],[-1.64,3.71],[2.67,-2.77],[-3.46,2.57],[0.58,-0.97],[-0.23,-3.68],[1.87,2.91],
[-2.41,-0.17],[3.04,-1.57],[-1.04,1.17],[0.36,4.21],[-4.16,0.83],[2.24,-0.08],[-0.77,-2.58],[1.31,0.44],[-2.69,-2.81],[3.47,2.74],
[-1.51,2.12],[0.87,-1.76],[-3.08,-0.73],[2.49,1.46],[-0.16,-1.03],[1.06,-4.23],[-2.24,3.28],[3.88,-0.87],[-0.59,0.33],[1.72,-1.12],
[-3.86,1.91],[0.21,-4.48],[-1.27,-2.07],[2.92,0.28],[-0.85,3.92],[1.54,1.31],[-2.83,-3.33],[4.16,0.56],[-1.93,0.97],[0.67,2.68],
[-0.32,-0.46],[2.16,-3.38],[-3.32,-2.21],[1.28,3.24],[-1.71,-1.61],[3.34,-2.31],[-0.52,1.88],[0.99,-0.33],[-2.58,1.62],[2.71,3.57],
[-4.43,-0.42],[0.46,0.97],[-1.12,4.36],[1.93,-2.01],[-0.08,2.81],[3.17,0.94],[-2.16,-1.03],[0.79,-3.13],[-3.59,3.04],[2.33,1.98],
[-0.63,-3.26],[1.58,-0.61],[-1.87,2.76],[4.41,-1.53],[-2.97,-0.38],[0.34,1.52],[-1.43,0.43],[2.56,-1.73],[-0.97,-1.36],[1.18,2.33],
[-3.13,1.66],[3.62,1.79],[-0.28,3.36],[0.92,-2.38],[-2.36,0.58],[2.03,-4.02],[-4.04,-1.83],[1.47,0.81],[-0.74,-0.63],[2.86,-0.64],
[-1.58,-2.92],[0.18,0.48],[-2.77,2.96],[3.93,2.33],[-0.46,-2.13],[1.36,-1.42],[-3.67,0.21],[0.61,3.83],[-1.29,1.86],[2.44,0.36],
[-2.03,-2.46],[4.08,-0.21],[-0.89,0.11],[1.67,-3.07],[-3.42,-2.93],[0.29,-1.63],[-1.66,3.21],[2.97,1.61],[-0.13,-2.89],[1.21,4.07],
[-2.48,-0.91],[3.28,-3.17],[-4.27,2.21],[0.84,1.69],[-0.71,-4.16],[2.12,2.47],[-1.34,-0.29],[0.53,-2.51],[-3.01,-1.72],[1.82,0.18],
[-0.37,2.31],[2.58,-2.36],[-2.21,1.37],[3.51,0.44],[-1.07,-3.57],[0.07,1.12],[-3.81,-0.77],[1.39,-0.94],[-0.58,4.06],[2.29,3.12],
[-1.83,-0.49],[0.97,-3.86],[-2.64,2.07],[4.27,1.13],[-0.19,-0.88],[1.61,2.58],[-3.24,-3.47],[2.74,-1.02],[-1.02,2.49],[0.41,-0.21],
[-2.31,-1.96],[3.08,2.96],[-0.81,0.76],[1.24,-2.11],[-4.58,1.36],[0.69,0.14],[-1.47,-4.04],[2.19,-0.71],[-2.88,0.89],[0.14,3.04],
[3.66,-1.96],[-1.21,-1.21],[1.76,1.07],[-3.52,2.31],[0.56,-4.36],[-0.44,1.64],[2.47,-3.12],[-2.19,-3.62],[1.03,0.63],[-1.62,1.49],
[3.43,-0.97],[-0.67,-1.74],[0.26,2.57],[-3.93,-2.42],[2.08,1.31],[-1.16,3.48],[1.49,-1.88],[-2.72,-1.41],[0.81,-0.58],[-0.09,-3.37],
[2.63,0.97],[-1.94,-2.23],[3.81,-2.63],[-0.54,2.98],[1.16,-2.86],[-3.16,0.67],[0.48,1.86],[-1.36,-1.78],[2.37,-0.43],[-2.44,3.58],
[1.87,3.63],[-0.31,0.63],[-4.11,0.49],[0.89,-1.17],[-1.77,0.18],[3.13,-1.24],[-0.96,-2.71],[1.53,0.11],[-2.61,-2.62],[0.32,-3.04],
[2.82,2.31],[-1.48,2.57],[0.63,-1.97],[-3.36,-1.12],[1.97,-1.56],[-0.72,1.22],[3.57,3.21],[-2.14,-0.61],[1.09,2.06],[-0.26,-1.51],
[-1.09,0.64],[2.54,-4.28],[-3.71,1.43],[0.18,-0.71],[1.78,-2.67],[-2.52,0.13],[0.71,3.13],[-0.62,-3.87],[3.21,0.13],[-1.86,1.27],
[0.38,-2.27],[-2.94,-2.38],[2.26,0.52],[-0.83,-0.97],[1.44,3.01]
];

// ---------- drawing ----------
const FAMILY = "'Liberation Sans', Arial, Helvetica, sans-serif";
Chart.defaults.font.family = FAMILY;
Chart.defaults.font.size = 12;
Chart.defaults.color = '#000';

const measureCtx = document.createElement('canvas').getContext('2d');
measureCtx.font = '12px ' + FAMILY;
function labelPad(texts, offset) {
    // keep rotated y labels centred `offset` px left of the axis
    const widest = Math.max(...texts.map(t => measureCtx.measureText(t).width));
    return offset - 5 - widest / 2;
}

const rStyle = {
    id: 'rStyle',
    beforeDatasetsDraw(chart, args, opts) {
        if (!opts.cross) return;
        const {ctx, chartArea: a, scales: {x, y}} = chart;
        const px = Math.round(x.getPixelForValue(0) - 0.5) + 0.5;
        const py = Math.round(y.getPixelForValue(0) - 0.5) + 0.5;
        ctx.save();
        ctx.strokeStyle = '#222';
        ctx.lineWidth = 1;
        ctx.beginPath();
        ctx.moveTo(px, a.top); ctx.lineTo(px, a.bottom);
        ctx.moveTo(a.left, py); ctx.lineTo(a.right, py);
        ctx.stroke();
        ctx.restore();
    },
    afterDraw(chart, args, opts) {
        const {ctx, chartArea: a} = chart;
        ctx.save();
        ctx.strokeStyle = '#000';
        ctx.lineWidth = 1;
        if (opts.box) {
            const l = Math.round(a.left - 0.5) + 0.5, t = Math.round(a.top - 0.5) + 0.5;
            const r = Math.round(a.right - 0.5) + 0.5, b = Math.round(a.bottom - 0.5) + 0.5;
            ctx.strokeRect(l, t, r - l, b - t);
        }
        (opts.axisLines || []).forEach(id => {
            const s = chart.scales[id];
            const p0 = s.getPixelForValue(s.ticks[0].value);
            const p1 = s.getPixelForValue(s.ticks[s.ticks.length - 1].value);
            ctx.beginPath();
            if (id === 'x') {
                const yy = Math.round(a.bottom - 0.5) + 0.5;
                ctx.moveTo(p0, yy); ctx.lineTo(p1, yy);
            } else {
                const xx = Math.round(a.left - 0.5) + 0.5;
                ctx.moveTo(xx, p0); ctx.lineTo(xx, p1);
            }
            ctx.stroke();
        });
        // numbers next to the reference circles
        const shift = {below: [0, 14], above: [0, -13], left: [-12, 0], right: [12, 0]};
        chart.data.datasets.forEach((ds, i) => {
            if (!ds.ptLabels) return;
            ctx.font = '12px ' + FAMILY;
            ctx.fillStyle = ds.ptLabelColor;
            ctx.textAlign = 'center';
            ctx.textBaseline = 'middle';
            chart.getDatasetMeta(i).data.forEach((el, j) => {
                const d = shift[ds.ptLabelPos[j]];
                ctx.fillText(ds.ptLabels[j], el.x + d[0], el.y + d[1]);
            });
        });
        // panel tag of the histograms
        if (opts.tag) {
            ctx.font = '12px ' + FAMILY;
            ctx.fillStyle = '#000';
            ctx.textAlign = 'right';
            ctx.textBaseline = 'middle';
            const xr = chart.scales.x.getPixelForValue(1) + 1.5;
            opts.tag.forEach((t, k) => ctx.fillText(t, xr + k, a.top + opts.tagTop + k * 11));
        }
        ctx.restore();
    }
};

function makeCanvas(left, top, w, h) {
    const c = document.createElement('canvas');
    c.width = w; c.height = h;
    c.style.left = left + 'px'; c.style.top = top + 'px';
    c.style.width = w + 'px'; c.style.height = h + 'px';
    document.body.appendChild(c);
    return c;
}

function fixedTicks(vals) {
    return scale => { scale.ticks = vals.map(v => ({value: v})); };
}

function scatterPanel(p) {
    const yAxisW = 46, xAxisH = 44;
    const canvas = makeCanvas(p.left - yAxisW, p.top, yAxisW + (p.right - p.left) + 2, (p.bottom - p.top) + xAxisH);
    new Chart(canvas, {
        type: 'scatter',
        data: {
            datasets: [
                {
                    data: p.refs.map(r => ({x: r[0], y: r[1]})),
                    pointStyle: 'circle', pointRadius: 3.4, borderWidth: 1.6,
                    borderColor: '#000', backgroundColor: '#fff',
                    ptLabels: refNames, ptLabelPos: p.refPos, ptLabelColor: p.labelColor,
                },
                {
                    data: p.cloud.map(r => ({x: r[0], y: r[1]})),
                    pointStyle: 'rect', pointRadius: p.dot, borderWidth: 0,
                    backgroundColor: '#000',
                },
            ]
        },
        options: {
            responsive: false, animation: false, devicePixelRatio: 1, events: [],
            layout: {padding: {left: 0, right: 2, top: 0, bottom: 0}},
            plugins: {legend: {display: false}, tooltip: {enabled: false}, rStyle: {box: true, cross: true}},
            scales: {
                x: {
                    type: 'linear', position: 'bottom', min: p.xMin, max: p.xMax,
                    border: {display: false},
                    grid: {drawOnChartArea: false, drawTicks: true, tickLength: 5, color: '#000'},
                    ticks: {padding: 2.8, autoSkip: false, maxRotation: 0, callback: (v, i) => p.xText[i]},
                    afterBuildTicks: fixedTicks(p.xTicks),
                    afterFit: s => { s.height = xAxisH; },
                    title: {display: true, text: 'MDS dimension 1', font: {size: 11}, padding: {top: 0, bottom: 0}},
                },
                y: {
                    type: 'linear', position: 'left', min: p.yMin, max: p.yMax,
                    border: {display: false},
                    grid: {drawOnChartArea: false, drawTicks: true, tickLength: 5, color: '#000'},
                    ticks: {padding: labelPad(p.yText, p.yLabelOff), autoSkip: false, minRotation: 90, maxRotation: 90,
                            crossAlign: 'center', callback: (v, i) => p.yText[i]},
                    afterBuildTicks: fixedTicks(p.yTicks),
                    afterFit: s => { s.width = yAxisW; },
                    title: {display: true, text: 'MDS dimension 2', font: {size: 11}, padding: {top: 3.4, bottom: 0}},
                },
            }
        },
        plugins: [rStyle]
    });
}

function histPanel(p) {
    const yAxisW = 26;
    const xAxisH = p.showX ? 25 : 0;
    const padTop = 10;
    const canvas = makeCanvas(p.left - yAxisW, p.top - padTop, yAxisW + (p.right - p.left) + 6, padTop + (p.bottom - p.top) + xAxisH);
    new Chart(canvas, {
        type: 'bar',
        data: {
            datasets: [{
                data: p.counts.map((c, i) => ({x: binMids[i], y: c})),
                backgroundColor: '#bebebe', borderColor: '#000',
                borderWidth: {left: 0.6, right: 0.6, top: 1, bottom: 0.6}, borderSkipped: false,
                barPercentage: 1, categoryPercentage: 1,
            }]
        },
        options: {
            responsive: false, animation: false, devicePixelRatio: 1, events: [],
            layout: {padding: {left: 0, right: 6, top: padTop, bottom: 0}},
            plugins: {legend: {display: false}, tooltip: {enabled: false},
                      rStyle: {axisLines: p.showX ? ['x', 'y'] : ['y'], tag: p.tag, tagTop: p.tagTop}},
            scales: {
                x: {
                    type: 'linear', position: 'bottom', min: -0.04, max: 1.04, offset: false,
                    display: p.showX,
                    border: {display: false},
                    grid: {drawOnChartArea: false, drawTicks: true, tickLength: 5, color: '#000'},
                    ticks: {padding: 3.1, autoSkip: false, maxRotation: 0, callback: (v, i) => histXText[i]},
                    afterBuildTicks: fixedTicks(histXTicks),
                    afterFit: s => { s.height = xAxisH; },
                },
                y: {
                    type: 'linear', position: 'left', min: p.yMin, max: p.yMax,
                    border: {display: false},
                    grid: {drawOnChartArea: false, drawTicks: true, tickLength: 5, color: '#000'},
                    ticks: {padding: labelPad(p.yText, p.yLabelOff), autoSkip: false, minRotation: 90, maxRotation: 90,
                            crossAlign: 'center', callback: (v, i) => p.yText[i]},
                    afterBuildTicks: fixedTicks(p.yTicks),
                    afterFit: s => { s.width = yAxisW; },
                },
            }
        },
        plugins: [rStyle]
    });
}

const rows = [
    {dy: 0, small: mdsSmallA, smallRefs: refSmallA, smallPos: ['below', 'below', 'below', 'below'],
     large: mdsLargeA, largeRefs: refLargeA,
     hists: [histA1, histA2, histOriginal, histA4], tall4: true},
    {dy: 332, small: mdsSmallB, smallRefs: refSmallB, smallPos: ['right', 'above', 'left', 'below'],
     large: mdsLargeB, largeRefs: refLargeB,
     hists: [histB1, histB2, histOriginal, histB4], tall4: false},
];

rows.forEach(r => {
    scatterPanel({
        left: 46, right: 278, top: 39 + r.dy, bottom: 243 + r.dy,
        xMin: -2.298, xMax: 1.346, yMin: -1.055, yMax: 0.561,
        xTicks: smallXTicks, xText: smallXText, yTicks: smallYTicks, yText: smallYText, yLabelOff: 14,
        cloud: r.small, refs: r.smallRefs, refPos: r.smallPos, labelColor: '#222', dot: 1.8,
    });
    scatterPanel({
        left: 631, right: 875, top: 39 + r.dy, bottom: 243 + r.dy,
        xMin: -10.98, xMax: 11.37, yMin: -10.14, yMax: 11.07,
        xTicks: largeTicks, xText: largeText, yTicks: largeTicks, yText: largeText, yLabelOff: 15.7,
        cloud: r.large, refs: r.largeRefs, refPos: ['below', 'below', 'below', 'below'], labelColor: '#444', dot: 1.5,
    });
    const cols = [[322, 425], [460, 563]];
    r.hists.forEach((counts, k) => {
        const col = cols[k % 2];
        const low = k >= 2;
        const big = k === 3 && r.tall4;
        histPanel({
            left: col[0], right: col[1],
            top: (low ? 145 : 25) + r.dy, bottom: (low ? 243 : 118) + r.dy,
            counts: counts, showX: low,
            yMin: big ? -150 : (low ? -43 : -35), yMax: big ? 3823 : (low ? 1096.5 : 1050),
            yTicks: big ? histY4Ticks : histYTicks, yText: big ? histY4Text : histYText,
            yLabelOff: big ? 9 : 13.5,
            tag: k === 2 ? ['3', 'original'] : [String(k + 1)], tagTop: low ? 6 : 0,
        });
    });
});
</script>
</body>
</html>
